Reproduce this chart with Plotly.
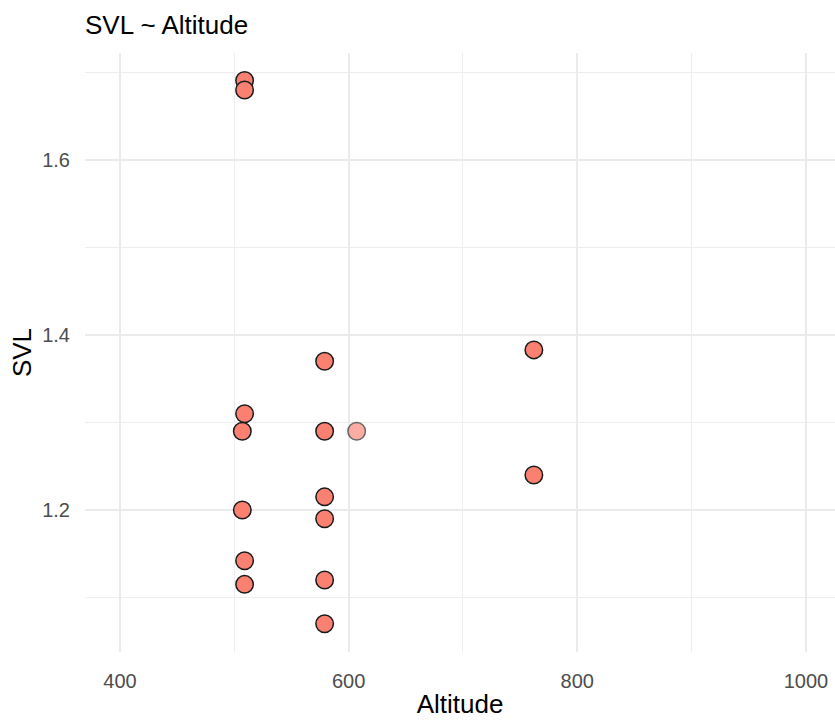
import plotly.graph_objects as go

altitude = [509, 509, 579, 762, 509, 507, 579, 607, 762, 579, 507, 579, 509, 509, 579, 579]
svl = [1.691, 1.680, 1.370, 1.383, 1.310, 1.290, 1.290, 1.290, 1.240, 1.215, 1.200, 1.190, 1.142, 1.115, 1.120, 1.070]
opacity = [1, 1, 1, 1, 1, 1, 1, 0.65, 1, 1, 1, 1, 1, 1, 1, 1]

fig = go.Figure(go.Scatter(
    x=altitude, y=svl, mode="markers",
    marker=dict(size=17.5, color="#FA8072", opacity=opacity,
                line=dict(color="#1a1a1a", width=1.5)),
))

font = "Liberation Sans, Arial, Helvetica, sans-serif"
fig.update_layout(
    width=835, height=726,
    margin=dict(l=85, r=0, t=53, b=74),
    plot_bgcolor="white", paper_bgcolor="white",
    showlegend=False,
    font=dict(family=font),
    title=dict(text="SVL ~ Altitude", x=85/835, xanchor="left", y=1-25/726, yanchor="middle",
               font=dict(size=26, color="black", family=font)),
    xaxis=dict(range=[369.4, 1025.4], tick0=0, dtick=200, showgrid=True, gridcolor="#EBEBEB", gridwidth=2,
               zeroline=False, showline=False, ticks="outside", ticklen=11, tickcolor="rgba(0,0,0,0)",
               tickfont=dict(size=20, color="#4D4D4D"), automargin=False,
               minor=dict(tick0=0, dtick=100, showgrid=True, gridcolor="#EEEEEE", gridwidth=1),
               title=dict(text="Altitude", font=dict(size=26, color="black"), standoff=3)),
    yaxis=dict(range=[1.0377, 1.7223], tick0=0, dtick=0.2, showgrid=True, gridcolor="#EBEBEB", gridwidth=2,
               zeroline=False, showline=False, ticks="outside", ticklen=10, tickcolor="rgba(0,0,0,0)",
               tickformat=".1f", automargin=False,
               tickfont=dict(size=20, color="#4D4D4D"),
               minor=dict(tick0=0, dtick=0.1, showgrid=True, gridcolor="#EEEEEE", gridwidth=1),
               title=dict(text="SVL", font=dict(size=26, color="black"), standoff=3)),
)

fig.write_html("out.html", config={"displayModeBar": False},
               post_script="document.body.style.margin='0';")
